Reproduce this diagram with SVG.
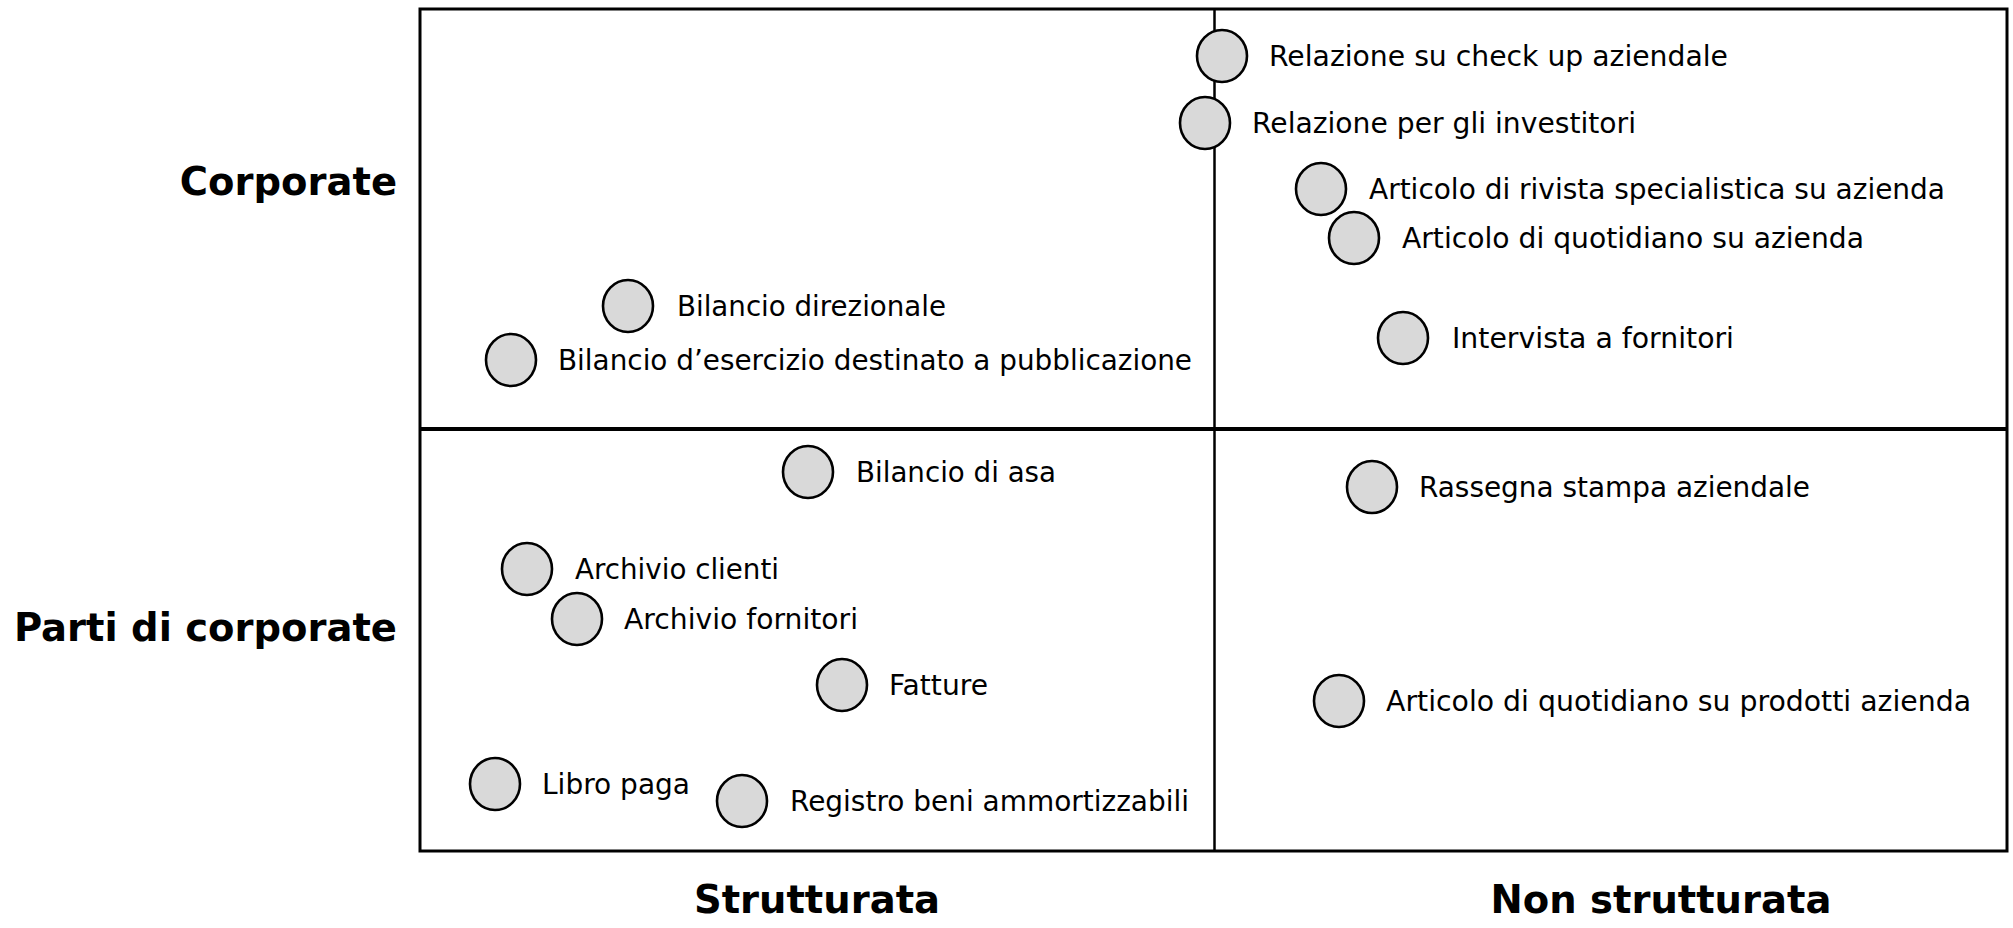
<svg xmlns="http://www.w3.org/2000/svg" width="2013" height="928" viewBox="0 0 2013 928">
<style>
.bg{fill:#ffffff}
.frame{fill:none;stroke:#000;stroke-width:3}
.hmid{stroke:#000;stroke-width:4}
.vmid{stroke:#000;stroke-width:2.5}
.dot{fill:#d9d9d9;stroke:#000;stroke-width:2.6}
.lbl{font-family:"DejaVu Sans",Verdana,sans-serif;font-size:27.5px;fill:#000}
.axis{font-family:"DejaVu Sans",Verdana,sans-serif;font-size:38.5px;font-weight:bold;fill:#000}
</style>
<rect class="bg" x="0" y="0" width="2013" height="928"/>
<g id="grid">
<rect class="frame" x="420" y="9" width="1587" height="842"/>
<line class="hmid" x1="420" y1="429" x2="2007" y2="429"/>
<line class="vmid" x1="1214.5" y1="9" x2="1214.5" y2="851"/>
</g>
<g id="axis-labels">
<text class="axis" x="397" y="195" text-anchor="end">Corporate</text>
<text class="axis" x="397" y="641" text-anchor="end">Parti di corporate</text>
<text class="axis" x="817" y="913" text-anchor="middle">Strutturata</text>
<text class="axis" x="1661" y="913" text-anchor="middle">Non strutturata</text>
</g>
<g id="connectors"></g>
<g id="n1"><ellipse class="dot" cx="1222" cy="56" rx="25" ry="26"/><text class="lbl" x="1269" y="66" textLength="459" lengthAdjust="spacingAndGlyphs">Relazione su check up aziendale</text></g>
<g id="n2"><ellipse class="dot" cx="1205" cy="123" rx="25" ry="26"/><text class="lbl" x="1252" y="133" textLength="384" lengthAdjust="spacingAndGlyphs">Relazione per gli investitori</text></g>
<g id="n3"><ellipse class="dot" cx="1321" cy="189" rx="25" ry="26"/><text class="lbl" x="1369" y="199" textLength="576" lengthAdjust="spacingAndGlyphs">Articolo di rivista specialistica su azienda</text></g>
<g id="n4"><ellipse class="dot" cx="1354" cy="238" rx="25" ry="26"/><text class="lbl" x="1402" y="248" textLength="462" lengthAdjust="spacingAndGlyphs">Articolo di quotidiano su azienda</text></g>
<g id="n5"><ellipse class="dot" cx="1403" cy="338" rx="25" ry="26"/><text class="lbl" x="1452" y="348" textLength="282" lengthAdjust="spacingAndGlyphs">Intervista a fornitori</text></g>
<g id="n6"><ellipse class="dot" cx="628" cy="306" rx="25" ry="26"/><text class="lbl" x="677" y="316" textLength="269" lengthAdjust="spacingAndGlyphs">Bilancio direzionale</text></g>
<g id="n7"><ellipse class="dot" cx="511" cy="360" rx="25" ry="26"/><text class="lbl" x="558" y="370" textLength="634" lengthAdjust="spacingAndGlyphs">Bilancio d’esercizio destinato a pubblicazione</text></g>
<g id="n8"><ellipse class="dot" cx="808" cy="472" rx="25" ry="26"/><text class="lbl" x="856" y="482" textLength="200" lengthAdjust="spacingAndGlyphs">Bilancio di asa</text></g>
<g id="n9"><ellipse class="dot" cx="527" cy="569" rx="25" ry="26"/><text class="lbl" x="575" y="579" textLength="204" lengthAdjust="spacingAndGlyphs">Archivio clienti</text></g>
<g id="n10"><ellipse class="dot" cx="577" cy="619" rx="25" ry="26"/><text class="lbl" x="624" y="629" textLength="234" lengthAdjust="spacingAndGlyphs">Archivio fornitori</text></g>
<g id="n11"><ellipse class="dot" cx="842" cy="685" rx="25" ry="26"/><text class="lbl" x="889" y="695" textLength="99" lengthAdjust="spacingAndGlyphs">Fatture</text></g>
<g id="n12"><ellipse class="dot" cx="495" cy="784" rx="25" ry="26"/><text class="lbl" x="542" y="794" textLength="148" lengthAdjust="spacingAndGlyphs">Libro paga</text></g>
<g id="n13"><ellipse class="dot" cx="742" cy="801" rx="25" ry="26"/><text class="lbl" x="790" y="811" textLength="399" lengthAdjust="spacingAndGlyphs">Registro beni ammortizzabili</text></g>
<g id="n14"><ellipse class="dot" cx="1372" cy="487" rx="25" ry="26"/><text class="lbl" x="1419" y="497" textLength="391" lengthAdjust="spacingAndGlyphs">Rassegna stampa aziendale</text></g>
<g id="n15"><ellipse class="dot" cx="1339" cy="701" rx="25" ry="26"/><text class="lbl" x="1386" y="711" textLength="585" lengthAdjust="spacingAndGlyphs">Articolo di quotidiano su prodotti azienda</text></g>
</svg>
